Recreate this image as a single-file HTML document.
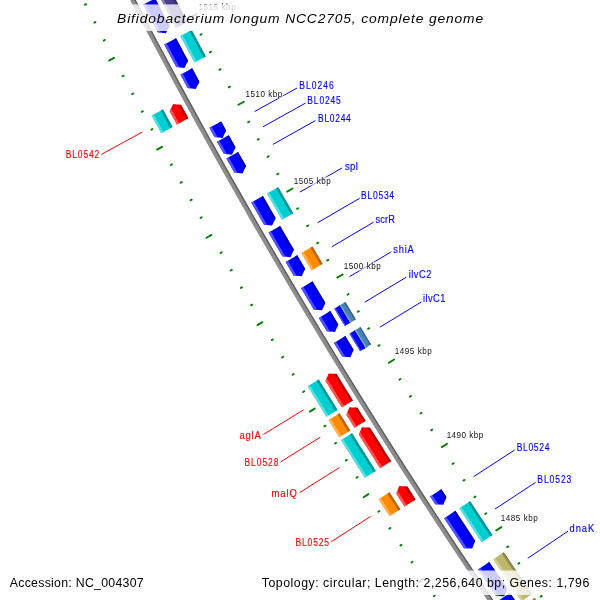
<!DOCTYPE html>
<html><head><meta charset="utf-8"><style>
html,body{margin:0;padding:0;background:#fff;}
svg{display:block;will-change:transform}
text{font-family:"Liberation Sans",sans-serif;}
.rl{font-size:9px;}
.lb{font-size:10px;stroke-width:0.15px;paint-order:stroke}
.tt{font-size:13px;font-style:italic;letter-spacing:0.8px}
.ft{font-size:13px;fill:#000;}
</style></head><body>
<svg width="600" height="600" viewBox="0 0 600 600">
<rect width="600" height="600" fill="#fff"/>
<path d="M559.79,705.03 L550.77,692.25 L541.79,679.43 L532.84,666.60 L523.93,653.75 L515.05,640.87 L506.20,627.96 L497.38,615.04 L488.60,602.09 L479.85,589.12 L471.14,576.13 L462.46,563.11 L453.81,550.08 L445.19,537.02 L436.61,523.94 L428.06,510.83 L419.55,497.71 L411.07,484.56 L402.63,471.39 L394.21,458.20 L385.84,444.99 L377.49,431.75 L369.18,418.50 L360.91,405.22 L352.67,391.92 L344.46,378.60 L336.29,365.26 L328.15,351.90 L320.04,338.52 L311.97,325.12 L303.94,311.69 L295.94,298.25 L287.97,284.78 L280.04,271.30 L272.14,257.79 L264.28,244.27 L256.46,230.72 L248.66,217.15 L240.91,203.57 L233.18,189.96 L225.50,176.34 L217.85,162.69 L210.23,149.02 L202.65,135.34 L195.10,121.63 L187.59,107.91 L180.12,94.17 L172.67,80.41 L165.27,66.62 L157.90,52.82 L150.57,39.00 L143.27,25.17 L136.01,11.31 L128.78,-2.57 L121.59,-16.46 L114.43,-30.37 L107.31,-44.30 L100.23,-58.25 L93.18,-72.22 L86.17,-86.21 L90.64,-88.44 L97.65,-74.47 L104.69,-60.51 L111.77,-46.57 L118.88,-32.65 L126.03,-18.75 L133.22,-4.87 L140.44,8.99 L147.69,22.84 L154.99,36.67 L162.31,50.47 L169.68,64.26 L177.08,78.03 L184.51,91.78 L191.98,105.52 L199.48,119.23 L207.02,132.92 L214.60,146.60 L222.21,160.25 L229.86,173.88 L237.54,187.50 L245.25,201.09 L253.00,214.67 L260.79,228.22 L268.61,241.76 L276.46,255.27 L284.35,268.77 L292.28,282.24 L300.24,295.70 L308.23,309.13 L316.26,322.54 L324.32,335.94 L332.42,349.31 L340.55,362.66 L348.72,375.99 L356.92,389.29 L365.15,402.58 L373.42,415.85 L381.73,429.09 L390.06,442.32 L398.43,455.52 L406.84,468.70 L415.28,481.85 L423.75,494.99 L432.26,508.11 L440.80,521.20 L449.37,534.27 L457.98,547.32 L466.62,560.34 L475.29,573.35 L484.00,586.33 L492.74,599.29 L501.52,612.23 L510.33,625.14 L519.17,638.03 L528.04,650.90 L536.95,663.75 L545.89,676.57 L554.86,689.37 L563.87,702.15Z" fill="#8c8c8c"/>
<path d="M562.81,702.90 L553.80,690.12 L544.82,677.31 L535.88,664.49 L526.97,651.64 L518.10,638.77 L509.25,625.87 L500.44,612.96 L491.67,600.02 L482.92,587.06 L474.21,574.07 L465.54,561.06 L456.89,548.04 L448.28,534.98 L439.71,521.91 L431.17,508.82 L422.66,495.70 L414.18,482.56 L405.74,469.40 L397.34,456.21 L388.96,443.01 L380.62,429.78 L372.32,416.54 L364.05,403.27 L355.81,389.98 L347.61,376.67 L339.44,363.33 L331.31,349.98 L323.21,336.61 L315.15,323.21 L307.12,309.80 L299.12,296.36 L291.16,282.90 L283.23,269.43 L275.34,255.93 L267.48,242.41 L259.66,228.87 L251.87,215.32 L244.12,201.74 L236.41,188.14 L228.72,174.52 L221.08,160.88 L213.46,147.23 L205.89,133.55 L198.35,119.85 L190.84,106.14 L183.37,92.40 L175.93,78.65 L168.53,64.88 L161.17,51.08 L153.84,37.27 L146.54,23.44 L139.29,9.60 L132.06,-4.27 L124.88,-18.16 L117.73,-32.06 L110.61,-45.98 L103.53,-59.92 L96.49,-73.88 L89.48,-87.86 L90.64,-88.44 L97.65,-74.47 L104.69,-60.51 L111.77,-46.57 L118.88,-32.65 L126.03,-18.75 L133.22,-4.87 L140.44,8.99 L147.69,22.84 L154.99,36.67 L162.31,50.47 L169.68,64.26 L177.08,78.03 L184.51,91.78 L191.98,105.52 L199.48,119.23 L207.02,132.92 L214.60,146.60 L222.21,160.25 L229.86,173.88 L237.54,187.50 L245.25,201.09 L253.00,214.67 L260.79,228.22 L268.61,241.76 L276.46,255.27 L284.35,268.77 L292.28,282.24 L300.24,295.70 L308.23,309.13 L316.26,322.54 L324.32,335.94 L332.42,349.31 L340.55,362.66 L348.72,375.99 L356.92,389.29 L365.15,402.58 L373.42,415.85 L381.73,429.09 L390.06,442.32 L398.43,455.52 L406.84,468.70 L415.28,481.85 L423.75,494.99 L432.26,508.11 L440.80,521.20 L449.37,534.27 L457.98,547.32 L466.62,560.34 L475.29,573.35 L484.00,586.33 L492.74,599.29 L501.52,612.23 L510.33,625.14 L519.17,638.03 L528.04,650.90 L536.95,663.75 L545.89,676.57 L554.86,689.37 L563.87,702.15Z" fill="#5e5e5e"/>
<line x1="608.95" y1="694.67" x2="614.00" y2="691.07" stroke="#008000" stroke-width="1.9" stroke-linecap="round"/>
<line x1="537.91" y1="745.23" x2="533.27" y2="748.54" stroke="#008000" stroke-width="1.9" stroke-linecap="round"/>
<line x1="597.43" y1="678.42" x2="598.49" y2="677.67" stroke="#008000" stroke-width="1.9" stroke-linecap="round"/>
<line x1="526.39" y1="728.64" x2="525.33" y2="729.39" stroke="#008000" stroke-width="1.9" stroke-linecap="round"/>
<line x1="585.96" y1="662.14" x2="587.03" y2="661.40" stroke="#008000" stroke-width="1.9" stroke-linecap="round"/>
<line x1="514.75" y1="712.12" x2="513.69" y2="712.87" stroke="#008000" stroke-width="1.9" stroke-linecap="round"/>
<line x1="574.55" y1="645.82" x2="575.62" y2="645.08" stroke="#008000" stroke-width="1.9" stroke-linecap="round"/>
<line x1="503.18" y1="695.57" x2="502.11" y2="696.31" stroke="#008000" stroke-width="1.9" stroke-linecap="round"/>
<line x1="563.19" y1="629.47" x2="564.26" y2="628.73" stroke="#008000" stroke-width="1.9" stroke-linecap="round"/>
<line x1="491.65" y1="678.98" x2="490.58" y2="679.72" stroke="#008000" stroke-width="1.9" stroke-linecap="round"/>
<line x1="551.88" y1="613.07" x2="556.99" y2="609.56" stroke="#008000" stroke-width="1.9" stroke-linecap="round"/>
<line x1="480.02" y1="662.46" x2="475.32" y2="665.69" stroke="#008000" stroke-width="1.9" stroke-linecap="round"/>
<line x1="540.63" y1="596.64" x2="541.71" y2="595.91" stroke="#008000" stroke-width="1.9" stroke-linecap="round"/>
<line x1="468.77" y1="645.68" x2="467.70" y2="646.41" stroke="#008000" stroke-width="1.9" stroke-linecap="round"/>
<line x1="529.44" y1="580.18" x2="530.51" y2="579.45" stroke="#008000" stroke-width="1.9" stroke-linecap="round"/>
<line x1="457.41" y1="628.98" x2="456.33" y2="629.71" stroke="#008000" stroke-width="1.9" stroke-linecap="round"/>
<line x1="518.29" y1="563.67" x2="519.37" y2="562.95" stroke="#008000" stroke-width="1.9" stroke-linecap="round"/>
<line x1="446.11" y1="612.23" x2="445.03" y2="612.96" stroke="#008000" stroke-width="1.9" stroke-linecap="round"/>
<line x1="507.20" y1="547.13" x2="508.29" y2="546.41" stroke="#008000" stroke-width="1.9" stroke-linecap="round"/>
<line x1="434.86" y1="595.45" x2="433.78" y2="596.18" stroke="#008000" stroke-width="1.9" stroke-linecap="round"/>
<line x1="496.17" y1="530.55" x2="501.34" y2="527.13" stroke="#008000" stroke-width="1.9" stroke-linecap="round"/>
<line x1="423.50" y1="578.75" x2="418.75" y2="581.90" stroke="#008000" stroke-width="1.9" stroke-linecap="round"/>
<line x1="485.19" y1="513.94" x2="486.28" y2="513.22" stroke="#008000" stroke-width="1.9" stroke-linecap="round"/>
<line x1="412.53" y1="561.78" x2="411.44" y2="562.50" stroke="#008000" stroke-width="1.9" stroke-linecap="round"/>
<line x1="474.27" y1="497.29" x2="475.36" y2="496.58" stroke="#008000" stroke-width="1.9" stroke-linecap="round"/>
<line x1="401.45" y1="544.89" x2="400.36" y2="545.60" stroke="#008000" stroke-width="1.9" stroke-linecap="round"/>
<line x1="463.40" y1="480.60" x2="464.49" y2="479.89" stroke="#008000" stroke-width="1.9" stroke-linecap="round"/>
<line x1="390.42" y1="527.97" x2="389.33" y2="528.67" stroke="#008000" stroke-width="1.9" stroke-linecap="round"/>
<line x1="452.59" y1="463.88" x2="453.68" y2="463.18" stroke="#008000" stroke-width="1.9" stroke-linecap="round"/>
<line x1="379.45" y1="511.00" x2="378.36" y2="511.71" stroke="#008000" stroke-width="1.9" stroke-linecap="round"/>
<line x1="441.83" y1="447.12" x2="447.05" y2="443.78" stroke="#008000" stroke-width="1.9" stroke-linecap="round"/>
<line x1="368.37" y1="494.11" x2="363.57" y2="497.18" stroke="#008000" stroke-width="1.9" stroke-linecap="round"/>
<line x1="431.12" y1="430.33" x2="432.22" y2="429.63" stroke="#008000" stroke-width="1.9" stroke-linecap="round"/>
<line x1="357.68" y1="476.97" x2="356.58" y2="477.66" stroke="#008000" stroke-width="1.9" stroke-linecap="round"/>
<line x1="420.48" y1="413.50" x2="421.58" y2="412.81" stroke="#008000" stroke-width="1.9" stroke-linecap="round"/>
<line x1="346.88" y1="459.90" x2="345.78" y2="460.59" stroke="#008000" stroke-width="1.9" stroke-linecap="round"/>
<line x1="409.88" y1="396.64" x2="410.99" y2="395.95" stroke="#008000" stroke-width="1.9" stroke-linecap="round"/>
<line x1="336.14" y1="442.79" x2="335.03" y2="443.48" stroke="#008000" stroke-width="1.9" stroke-linecap="round"/>
<line x1="399.35" y1="379.74" x2="400.45" y2="379.05" stroke="#008000" stroke-width="1.9" stroke-linecap="round"/>
<line x1="325.45" y1="425.65" x2="324.34" y2="426.33" stroke="#008000" stroke-width="1.9" stroke-linecap="round"/>
<line x1="388.87" y1="362.81" x2="394.14" y2="359.55" stroke="#008000" stroke-width="1.9" stroke-linecap="round"/>
<line x1="314.65" y1="408.58" x2="309.79" y2="411.57" stroke="#008000" stroke-width="1.9" stroke-linecap="round"/>
<line x1="378.44" y1="345.84" x2="379.55" y2="345.16" stroke="#008000" stroke-width="1.9" stroke-linecap="round"/>
<line x1="304.24" y1="391.26" x2="303.13" y2="391.94" stroke="#008000" stroke-width="1.9" stroke-linecap="round"/>
<line x1="368.07" y1="328.84" x2="369.19" y2="328.16" stroke="#008000" stroke-width="1.9" stroke-linecap="round"/>
<line x1="293.72" y1="374.01" x2="292.61" y2="374.69" stroke="#008000" stroke-width="1.9" stroke-linecap="round"/>
<line x1="357.76" y1="311.80" x2="358.88" y2="311.13" stroke="#008000" stroke-width="1.9" stroke-linecap="round"/>
<line x1="283.26" y1="356.73" x2="282.15" y2="357.40" stroke="#008000" stroke-width="1.9" stroke-linecap="round"/>
<line x1="347.51" y1="294.73" x2="348.62" y2="294.06" stroke="#008000" stroke-width="1.9" stroke-linecap="round"/>
<line x1="272.86" y1="339.41" x2="271.74" y2="340.08" stroke="#008000" stroke-width="1.9" stroke-linecap="round"/>
<line x1="337.31" y1="277.63" x2="342.64" y2="274.46" stroke="#008000" stroke-width="1.9" stroke-linecap="round"/>
<line x1="262.34" y1="322.17" x2="257.44" y2="325.08" stroke="#008000" stroke-width="1.9" stroke-linecap="round"/>
<line x1="327.16" y1="260.49" x2="328.28" y2="259.83" stroke="#008000" stroke-width="1.9" stroke-linecap="round"/>
<line x1="252.22" y1="304.68" x2="251.10" y2="305.34" stroke="#008000" stroke-width="1.9" stroke-linecap="round"/>
<line x1="317.08" y1="243.32" x2="318.20" y2="242.66" stroke="#008000" stroke-width="1.9" stroke-linecap="round"/>
<line x1="241.99" y1="287.26" x2="240.87" y2="287.92" stroke="#008000" stroke-width="1.9" stroke-linecap="round"/>
<line x1="307.05" y1="226.12" x2="308.17" y2="225.46" stroke="#008000" stroke-width="1.9" stroke-linecap="round"/>
<line x1="231.82" y1="269.81" x2="230.69" y2="270.46" stroke="#008000" stroke-width="1.9" stroke-linecap="round"/>
<line x1="297.08" y1="208.88" x2="298.20" y2="208.23" stroke="#008000" stroke-width="1.9" stroke-linecap="round"/>
<line x1="221.70" y1="252.32" x2="220.57" y2="252.97" stroke="#008000" stroke-width="1.9" stroke-linecap="round"/>
<line x1="287.16" y1="191.61" x2="292.54" y2="188.53" stroke="#008000" stroke-width="1.9" stroke-linecap="round"/>
<line x1="211.47" y1="234.90" x2="206.52" y2="237.73" stroke="#008000" stroke-width="1.9" stroke-linecap="round"/>
<line x1="277.30" y1="174.31" x2="278.43" y2="173.67" stroke="#008000" stroke-width="1.9" stroke-linecap="round"/>
<line x1="201.64" y1="217.25" x2="200.51" y2="217.89" stroke="#008000" stroke-width="1.9" stroke-linecap="round"/>
<line x1="267.50" y1="156.97" x2="268.63" y2="156.33" stroke="#008000" stroke-width="1.9" stroke-linecap="round"/>
<line x1="191.70" y1="199.67" x2="190.56" y2="200.31" stroke="#008000" stroke-width="1.9" stroke-linecap="round"/>
<line x1="257.76" y1="139.60" x2="258.89" y2="138.97" stroke="#008000" stroke-width="1.9" stroke-linecap="round"/>
<line x1="181.81" y1="182.05" x2="180.68" y2="182.68" stroke="#008000" stroke-width="1.9" stroke-linecap="round"/>
<line x1="248.07" y1="122.21" x2="249.21" y2="121.58" stroke="#008000" stroke-width="1.9" stroke-linecap="round"/>
<line x1="171.99" y1="164.40" x2="170.85" y2="165.03" stroke="#008000" stroke-width="1.9" stroke-linecap="round"/>
<line x1="238.44" y1="104.77" x2="243.87" y2="101.79" stroke="#008000" stroke-width="1.9" stroke-linecap="round"/>
<line x1="162.04" y1="146.81" x2="157.05" y2="149.56" stroke="#008000" stroke-width="1.9" stroke-linecap="round"/>
<line x1="228.87" y1="87.31" x2="230.01" y2="86.69" stroke="#008000" stroke-width="1.9" stroke-linecap="round"/>
<line x1="152.51" y1="129.00" x2="151.37" y2="129.63" stroke="#008000" stroke-width="1.9" stroke-linecap="round"/>
<line x1="219.35" y1="69.82" x2="220.50" y2="69.20" stroke="#008000" stroke-width="1.9" stroke-linecap="round"/>
<line x1="142.86" y1="111.26" x2="141.71" y2="111.88" stroke="#008000" stroke-width="1.9" stroke-linecap="round"/>
<line x1="209.90" y1="52.29" x2="211.04" y2="51.68" stroke="#008000" stroke-width="1.9" stroke-linecap="round"/>
<line x1="133.26" y1="93.48" x2="132.12" y2="94.09" stroke="#008000" stroke-width="1.9" stroke-linecap="round"/>
<line x1="200.50" y1="34.74" x2="201.65" y2="34.12" stroke="#008000" stroke-width="1.9" stroke-linecap="round"/>
<line x1="123.73" y1="75.67" x2="122.58" y2="76.28" stroke="#008000" stroke-width="1.9" stroke-linecap="round"/>
<line x1="191.16" y1="17.15" x2="196.64" y2="14.25" stroke="#008000" stroke-width="1.9" stroke-linecap="round"/>
<line x1="114.08" y1="57.92" x2="109.04" y2="60.59" stroke="#008000" stroke-width="1.9" stroke-linecap="round"/>
<line x1="104.84" y1="39.96" x2="103.69" y2="40.56" stroke="#008000" stroke-width="1.9" stroke-linecap="round"/>
<line x1="95.48" y1="22.05" x2="94.33" y2="22.65" stroke="#008000" stroke-width="1.9" stroke-linecap="round"/>
<line x1="86.18" y1="4.12" x2="85.03" y2="4.71" stroke="#008000" stroke-width="1.9" stroke-linecap="round"/>
<line x1="76.94" y1="-13.85" x2="75.79" y2="-13.25" stroke="#008000" stroke-width="1.9" stroke-linecap="round"/>
<line x1="67.77" y1="-31.84" x2="66.61" y2="-31.25" stroke="#008000" stroke-width="1.9" stroke-linecap="round"/>
<line x1="58.65" y1="-49.87" x2="57.48" y2="-49.28" stroke="#008000" stroke-width="1.9" stroke-linecap="round"/>
<line x1="49.59" y1="-67.92" x2="48.42" y2="-67.34" stroke="#008000" stroke-width="1.9" stroke-linecap="round"/>
<line x1="40.59" y1="-86.01" x2="39.42" y2="-85.43" stroke="#008000" stroke-width="1.9" stroke-linecap="round"/>
<line x1="31.64" y1="-104.12" x2="30.48" y2="-103.55" stroke="#008000" stroke-width="1.9" stroke-linecap="round"/>
<path d="M143.31,4.61 L145.71,9.20 L148.11,13.80 L150.52,18.39 L152.93,22.97 L155.34,27.56 L157.76,32.14 L165.90,33.27 L169.55,25.91 L169.55,25.91 L167.14,21.34 L164.72,16.76 L162.32,12.19 L159.92,7.61 L157.52,3.03 L155.12,-1.56Z" fill="#0000ff"/>
<path d="M143.31,4.61 L145.71,9.20 L148.11,13.80 L150.52,18.39 L152.93,22.97 L155.34,27.56 L157.76,32.14 L160.86,32.57 L160.86,32.57 L158.29,27.72 L155.74,22.87 L153.18,18.02 L150.63,13.16 L148.09,8.30 L145.55,3.44Z" fill="#5454ff"/>
<path d="M152.88,-0.38 L155.41,4.47 L157.95,9.32 L160.50,14.17 L163.05,19.02 L165.60,23.87 L168.16,28.71 L169.55,25.91 L169.55,25.91 L167.14,21.34 L164.72,16.76 L162.32,12.19 L159.92,7.61 L157.52,3.03 L155.12,-1.56Z" fill="#0000ba"/>
<path d="M175.99,27.93 L173.20,22.66 L170.42,17.38 L167.64,12.10 L164.86,6.82 L162.10,1.53 L159.33,-3.75 L170.75,-9.71 L173.51,-4.44 L176.27,0.84 L179.04,6.11 L181.81,11.37 L184.59,16.64 L187.37,21.90Z" fill="#483d8b"/>
<path d="M175.99,27.93 L173.20,22.66 L170.42,17.38 L167.64,12.10 L164.86,6.82 L162.10,1.53 L159.33,-3.75 L161.50,-4.89 L164.26,0.40 L167.03,5.68 L169.80,10.96 L172.58,16.24 L175.36,21.51 L178.15,26.78Z" fill="#847db1"/>
<path d="M185.21,23.05 L182.43,17.78 L179.65,12.52 L176.87,7.24 L174.10,1.97 L171.34,-3.30 L168.58,-8.58 L170.75,-9.71 L173.51,-4.44 L176.27,0.84 L179.04,6.11 L181.81,11.37 L184.59,16.64 L187.37,21.90Z" fill="#352d65"/>
<path d="M164.28,44.44 L166.68,48.95 L169.08,53.45 L171.48,57.95 L173.89,62.45 L176.30,66.94 L184.44,68.02 L188.04,60.64 L188.04,60.64 L185.64,56.15 L183.24,51.66 L180.84,47.17 L178.44,42.68 L176.05,38.19Z" fill="#0000ff"/>
<path d="M164.28,44.44 L166.68,48.95 L169.08,53.45 L171.48,57.95 L173.89,62.45 L176.30,66.94 L179.39,67.35 L179.39,67.35 L176.81,62.54 L174.23,57.72 L171.66,52.90 L169.09,48.08 L166.52,43.25Z" fill="#5454ff"/>
<path d="M173.82,39.38 L176.38,44.19 L178.95,49.01 L181.52,53.82 L184.09,58.63 L186.67,63.44 L188.04,60.64 L188.04,60.64 L185.64,56.15 L183.24,51.66 L180.84,47.17 L178.44,42.68 L176.05,38.19Z" fill="#0000ba"/>
<path d="M194.50,62.61 L192.11,58.17 L189.73,53.73 L187.36,49.29 L184.98,44.85 L182.61,40.40 L180.25,35.96 L191.62,29.91 L193.98,34.35 L196.35,38.79 L198.71,43.22 L201.09,47.65 L203.46,52.08 L205.84,56.51Z" fill="#00ced1"/>
<path d="M194.50,62.61 L192.11,58.17 L189.73,53.73 L187.36,49.29 L184.98,44.85 L182.61,40.40 L180.25,35.96 L182.41,34.81 L184.77,39.25 L187.14,43.70 L189.51,48.14 L191.89,52.58 L194.27,57.02 L196.65,61.45Z" fill="#54dee0"/>
<path d="M203.68,57.67 L201.31,53.24 L198.93,48.81 L196.56,44.37 L194.19,39.94 L191.82,35.50 L189.46,31.06 L191.62,29.91 L193.98,34.35 L196.35,38.79 L198.71,43.22 L201.09,47.65 L203.46,52.08 L205.84,56.51Z" fill="#009699"/>
<path d="M180.46,74.68 L182.85,79.12 L185.25,83.55 L187.65,87.98 L195.79,89.02 L199.37,81.63 L199.37,81.63 L196.97,77.21 L194.58,72.79 L192.20,68.36Z" fill="#0000ff"/>
<path d="M180.46,74.68 L182.85,79.12 L185.25,83.55 L187.65,87.98 L190.74,88.38 L190.74,88.38 L188.05,83.41 L185.37,78.45 L182.69,73.48Z" fill="#5454ff"/>
<path d="M189.97,69.56 L192.64,74.52 L195.32,79.48 L198.01,84.44 L199.37,81.63 L199.37,81.63 L196.97,77.21 L194.58,72.79 L192.20,68.36Z" fill="#0000ba"/>
<path d="M209.44,127.84 L211.95,132.38 L214.45,136.91 L222.61,137.88 L226.11,130.45 L226.11,130.45 L223.61,125.93 L221.11,121.41Z" fill="#0000ff"/>
<path d="M209.44,127.84 L211.95,132.38 L214.45,136.91 L217.55,137.28 L217.55,137.28 L215.59,133.73 L213.62,130.18 L211.66,126.62Z" fill="#5454ff"/>
<path d="M218.90,122.63 L220.86,126.18 L222.82,129.73 L224.78,133.27 L226.11,130.45 L226.11,130.45 L223.61,125.93 L221.11,121.41Z" fill="#0000ba"/>
<path d="M217.07,141.64 L219.33,145.69 L221.58,149.74 L223.84,153.79 L232.00,154.73 L235.48,147.30 L235.48,147.30 L233.23,143.26 L230.98,139.21 L228.73,135.17Z" fill="#0000ff"/>
<path d="M217.07,141.64 L219.33,145.69 L221.58,149.74 L223.84,153.79 L226.94,154.15 L226.94,154.15 L224.39,149.57 L221.84,144.99 L219.29,140.41Z" fill="#5454ff"/>
<path d="M226.52,136.40 L229.06,140.98 L231.60,145.55 L234.15,150.12 L235.48,147.30 L235.48,147.30 L233.23,143.26 L230.98,139.21 L228.73,135.17Z" fill="#0000ba"/>
<path d="M226.45,158.48 L229.09,163.18 L231.72,167.88 L234.37,172.58 L242.53,173.49 L245.98,166.04 L245.98,166.04 L243.35,161.35 L240.72,156.66 L238.09,151.97Z" fill="#0000ff"/>
<path d="M226.45,158.48 L229.09,163.18 L231.72,167.88 L234.37,172.58 L237.47,172.93 L237.47,172.93 L234.53,167.70 L231.59,162.47 L228.67,157.24Z" fill="#5454ff"/>
<path d="M235.88,153.21 L238.80,158.43 L241.73,163.65 L244.67,168.87 L245.98,166.04 L245.98,166.04 L243.35,161.35 L240.72,156.66 L238.09,151.97Z" fill="#0000ba"/>
<path d="M251.31,202.49 L253.84,206.93 L256.37,211.36 L258.91,215.79 L261.45,220.22 L264.00,224.64 L272.17,225.47 L275.55,217.99 L275.55,217.99 L273.01,213.57 L270.47,209.16 L267.94,204.74 L265.41,200.31 L262.89,195.89Z" fill="#0000ff"/>
<path d="M251.31,202.49 L253.84,206.93 L256.37,211.36 L258.91,215.79 L261.45,220.22 L264.00,224.64 L267.10,224.96 L267.10,224.96 L264.38,220.22 L261.65,215.48 L258.93,210.73 L256.22,205.99 L253.51,201.24Z" fill="#5454ff"/>
<path d="M260.69,197.14 L263.39,201.89 L266.11,206.63 L268.82,211.36 L271.54,216.10 L274.26,220.83 L275.55,217.99 L275.55,217.99 L273.01,213.57 L270.47,209.16 L267.94,204.74 L265.41,200.31 L262.89,195.89Z" fill="#0000ba"/>
<path d="M282.06,219.77 L279.54,215.40 L277.03,211.03 L274.52,206.66 L272.01,202.29 L269.51,197.91 L267.01,193.54 L278.20,187.16 L280.70,191.53 L283.19,195.89 L285.69,200.26 L288.20,204.62 L290.70,208.98 L293.22,213.34Z" fill="#00ced1"/>
<path d="M282.06,219.77 L279.54,215.40 L277.03,211.03 L274.52,206.66 L272.01,202.29 L269.51,197.91 L267.01,193.54 L269.14,192.32 L271.64,196.70 L274.14,201.07 L276.64,205.45 L279.15,209.81 L281.66,214.18 L284.18,218.55Z" fill="#54dee0"/>
<path d="M291.10,214.56 L288.58,210.20 L286.07,205.84 L283.57,201.47 L281.07,197.11 L278.57,192.74 L276.08,188.37 L278.20,187.16 L280.70,191.53 L283.19,195.89 L285.69,200.26 L288.20,204.62 L290.70,208.98 L293.22,213.34Z" fill="#009699"/>
<path d="M268.56,232.55 L271.32,237.31 L274.07,242.08 L276.84,246.83 L279.60,251.59 L282.38,256.34 L290.55,257.13 L293.89,249.62 L293.89,249.62 L291.12,244.88 L288.36,240.13 L285.60,235.39 L282.85,230.64 L280.10,225.88Z" fill="#0000ff"/>
<path d="M268.56,232.55 L271.32,237.31 L274.07,242.08 L276.84,246.83 L279.60,251.59 L282.38,256.34 L285.48,256.64 L285.48,256.64 L282.53,251.58 L279.58,246.51 L276.63,241.44 L273.69,236.36 L270.75,231.28Z" fill="#5454ff"/>
<path d="M277.91,227.15 L280.84,232.22 L283.78,237.29 L286.72,242.35 L289.67,247.41 L292.62,252.47 L293.89,249.62 L293.89,249.62 L291.12,244.88 L288.36,240.13 L285.60,235.39 L282.85,230.64 L280.10,225.88Z" fill="#0000ba"/>
<path d="M285.72,262.06 L288.33,266.52 L290.95,270.97 L293.56,275.42 L301.74,276.18 L305.05,268.66 L305.05,268.66 L302.44,264.22 L299.83,259.78 L297.23,255.33Z" fill="#0000ff"/>
<path d="M285.72,262.06 L288.33,266.52 L290.95,270.97 L293.56,275.42 L296.67,275.71 L296.67,275.71 L293.75,270.74 L290.82,265.76 L287.91,260.78Z" fill="#5454ff"/>
<path d="M295.04,256.61 L297.95,261.58 L300.87,266.55 L303.79,271.51 L305.05,268.66 L305.05,268.66 L302.44,264.22 L299.83,259.78 L297.23,255.33Z" fill="#0000ba"/>
<path d="M311.58,270.38 L309.01,266.02 L306.44,261.66 L303.88,257.30 L301.33,252.93 L312.44,246.43 L314.99,250.78 L317.55,255.13 L320.11,259.49 L322.67,263.83Z" fill="#ff8c00"/>
<path d="M311.58,270.38 L309.01,266.02 L306.44,261.66 L303.88,257.30 L301.33,252.93 L303.44,251.69 L305.99,256.06 L308.55,260.42 L311.12,264.78 L313.68,269.13Z" fill="#ffb254"/>
<path d="M320.56,265.08 L318.00,260.73 L315.44,256.37 L312.88,252.02 L310.33,247.66 L312.44,246.43 L314.99,250.78 L317.55,255.13 L320.11,259.49 L322.67,263.83Z" fill="#ba6600"/>
<path d="M301.08,288.15 L303.63,292.45 L306.18,296.75 L308.73,301.04 L311.29,305.34 L313.85,309.63 L322.04,310.33 L325.29,302.79 L325.29,302.79 L322.74,298.51 L320.18,294.22 L317.64,289.94 L315.09,285.65 L312.55,281.36Z" fill="#0000ff"/>
<path d="M301.08,288.15 L303.63,292.45 L306.18,296.75 L308.73,301.04 L311.29,305.34 L313.85,309.63 L316.96,309.89 L316.96,309.89 L314.21,305.29 L311.47,300.69 L308.73,296.08 L305.99,291.47 L303.26,286.86Z" fill="#5454ff"/>
<path d="M310.37,282.65 L313.10,287.26 L315.83,291.86 L318.57,296.46 L321.31,301.06 L324.05,305.65 L325.29,302.79 L325.29,302.79 L322.74,298.51 L320.18,294.22 L317.64,289.94 L315.09,285.65 L312.55,281.36Z" fill="#0000ba"/>
<path d="M318.82,317.93 L321.50,322.39 L324.18,326.85 L326.87,331.30 L335.05,331.97 L338.28,324.42 L338.28,324.42 L335.60,319.97 L332.92,315.52 L330.25,311.07Z" fill="#0000ff"/>
<path d="M318.82,317.93 L321.50,322.39 L324.18,326.85 L326.87,331.30 L329.98,331.56 L329.98,331.56 L326.98,326.58 L323.98,321.60 L320.99,316.62Z" fill="#5454ff"/>
<path d="M328.08,312.37 L331.07,317.35 L334.06,322.32 L337.05,327.29 L338.28,324.42 L338.28,324.42 L335.60,319.97 L332.92,315.52 L330.25,311.07Z" fill="#0000ba"/>
<path d="M344.82,326.07 L342.19,321.71 L339.57,317.35 L336.94,312.99 L334.32,308.63 L339.85,305.32 L342.46,309.67 L345.08,314.03 L347.71,318.38 L350.33,322.73Z" fill="#0000ff"/>
<path d="M344.82,326.07 L342.19,321.71 L339.57,317.35 L336.94,312.99 L334.32,308.63 L335.37,308.00 L337.99,312.36 L340.61,316.72 L343.24,321.08 L345.87,325.43Z" fill="#5454ff"/>
<path d="M349.29,323.37 L346.66,319.02 L344.04,314.66 L341.42,310.30 L338.80,305.94 L339.85,305.32 L342.46,309.67 L345.08,314.03 L347.71,318.38 L350.33,322.73Z" fill="#0000ba"/>
<path d="M350.33,322.73 L347.71,318.38 L345.08,314.03 L342.46,309.67 L339.85,305.32 L345.37,302.00 L347.98,306.36 L350.60,310.71 L353.22,315.06 L355.85,319.40Z" fill="#4682b4"/>
<path d="M350.33,322.73 L347.71,318.38 L345.08,314.03 L342.46,309.67 L339.85,305.32 L340.90,304.69 L343.51,309.04 L346.13,313.40 L348.76,317.75 L351.38,322.10Z" fill="#83abcd"/>
<path d="M354.80,320.04 L352.17,315.69 L349.55,311.34 L346.94,306.99 L344.32,302.63 L345.37,302.00 L347.98,306.36 L350.60,310.71 L353.22,315.06 L355.85,319.40Z" fill="#335f83"/>
<path d="M333.96,343.03 L336.70,347.55 L339.45,352.07 L342.20,356.59 L350.39,357.21 L353.58,349.65 L353.58,349.65 L350.83,345.14 L348.09,340.63 L345.35,336.12Z" fill="#0000ff"/>
<path d="M333.96,343.03 L336.70,347.55 L339.45,352.07 L342.20,356.59 L345.31,356.83 L345.31,356.83 L342.24,351.79 L339.18,346.75 L336.12,341.71Z" fill="#5454ff"/>
<path d="M343.19,337.43 L346.24,342.46 L349.30,347.49 L352.37,352.52 L353.58,349.65 L353.58,349.65 L350.83,345.14 L348.09,340.63 L345.35,336.12Z" fill="#0000ba"/>
<path d="M360.13,351.26 L357.45,346.86 L354.77,342.46 L352.09,338.06 L349.42,333.65 L354.92,330.31 L357.59,334.71 L360.27,339.11 L362.95,343.51 L365.63,347.90Z" fill="#0000ff"/>
<path d="M360.13,351.26 L357.45,346.86 L354.77,342.46 L352.09,338.06 L349.42,333.65 L350.46,333.02 L353.13,337.42 L355.81,341.83 L358.49,346.23 L361.18,350.62Z" fill="#5454ff"/>
<path d="M364.58,348.54 L361.90,344.15 L359.22,339.75 L356.55,335.35 L353.88,330.95 L354.92,330.31 L357.59,334.71 L360.27,339.11 L362.95,343.51 L365.63,347.90Z" fill="#0000ba"/>
<path d="M365.63,347.90 L362.95,343.51 L360.27,339.11 L357.59,334.71 L354.92,330.31 L360.43,326.97 L363.10,331.37 L365.77,335.77 L368.44,340.16 L371.12,344.55Z" fill="#4682b4"/>
<path d="M365.63,347.90 L362.95,343.51 L360.27,339.11 L357.59,334.71 L354.92,330.31 L355.97,329.68 L358.64,334.08 L361.31,338.48 L363.99,342.87 L366.67,347.27Z" fill="#83abcd"/>
<path d="M370.08,345.18 L367.40,340.79 L364.72,336.40 L362.05,332.01 L359.38,327.61 L360.43,326.97 L363.10,331.37 L365.77,335.77 L368.44,340.16 L371.12,344.55Z" fill="#335f83"/>
<path d="M430.14,496.45 L432.68,500.37 L435.23,504.29 L443.43,504.68 L446.40,497.02 L446.40,497.02 L443.86,493.12 L441.33,489.21Z" fill="#0000ff"/>
<path d="M430.14,496.45 L432.68,500.37 L435.23,504.29 L438.34,504.44 L438.34,504.44 L435.30,499.76 L432.27,495.08Z" fill="#5454ff"/>
<path d="M439.20,490.58 L442.23,495.26 L445.27,499.93 L446.40,497.02 L446.40,497.02 L443.86,493.12 L441.33,489.21Z" fill="#0000ba"/>
<path d="M444.26,518.15 L447.54,523.15 L450.82,528.16 L454.11,533.16 L457.40,538.16 L460.70,543.15 L464.00,548.14 L472.21,548.46 L475.11,540.78 L475.11,540.78 L471.82,535.80 L468.53,530.82 L465.24,525.83 L461.96,520.84 L458.69,515.85 L455.42,510.85Z" fill="#0000ff"/>
<path d="M444.26,518.15 L447.54,523.15 L450.82,528.16 L454.11,533.16 L457.40,538.16 L460.70,543.15 L464.00,548.14 L467.12,548.26 L467.12,548.26 L464.15,543.77 L461.18,539.28 L458.21,534.78 L455.25,530.28 L452.29,525.78 L449.33,521.27 L446.38,516.76Z" fill="#5454ff"/>
<path d="M453.30,512.24 L456.25,516.74 L459.20,521.24 L462.15,525.74 L465.11,530.23 L468.07,534.72 L471.04,539.21 L474.01,543.70 L475.11,540.78 L475.11,540.78 L471.82,535.80 L468.53,530.82 L465.24,525.83 L461.96,520.84 L458.69,515.85 L455.42,510.85Z" fill="#0000ba"/>
<path d="M481.72,542.15 L478.52,537.31 L475.32,532.48 L472.13,527.64 L468.94,522.80 L465.75,517.95 L462.57,513.10 L459.39,508.25 L470.17,501.20 L473.34,506.04 L476.52,510.88 L479.69,515.72 L482.88,520.55 L486.07,525.38 L489.26,530.20 L492.45,535.03Z" fill="#00ced1"/>
<path d="M481.72,542.15 L478.52,537.31 L475.32,532.48 L472.13,527.64 L468.94,522.80 L465.75,517.95 L462.57,513.10 L459.39,508.25 L461.44,506.91 L464.62,511.76 L467.80,516.61 L470.98,521.45 L474.17,526.29 L477.36,531.13 L480.56,535.96 L483.76,540.79Z" fill="#54dee0"/>
<path d="M490.42,536.38 L487.22,531.55 L484.02,526.73 L480.83,521.90 L477.65,517.06 L474.47,512.23 L471.30,507.39 L468.12,502.54 L470.17,501.20 L473.34,506.04 L476.52,510.88 L479.69,515.72 L482.88,520.55 L486.07,525.38 L489.26,530.20 L492.45,535.03Z" fill="#009699"/>
<path d="M478.15,569.40 L481.13,573.85 L484.10,578.29 L487.08,582.72 L490.07,587.16 L493.06,591.59 L496.05,596.02 L504.26,596.27 L507.09,588.56 L507.09,588.56 L504.11,584.14 L501.12,579.71 L498.15,575.29 L495.17,570.86 L492.20,566.43 L489.23,561.99Z" fill="#0000ff"/>
<path d="M478.15,569.40 L481.13,573.85 L484.10,578.29 L487.08,582.72 L490.07,587.16 L493.06,591.59 L496.05,596.02 L499.17,596.12 L499.17,596.12 L496.01,591.44 L492.85,586.75 L489.69,582.07 L486.54,577.38 L483.40,572.69 L480.26,568.00Z" fill="#5454ff"/>
<path d="M487.13,563.40 L490.27,568.09 L493.41,572.77 L496.55,577.46 L499.70,582.14 L502.86,586.81 L506.02,591.49 L507.09,588.56 L507.09,588.56 L504.11,584.14 L501.12,579.71 L498.15,575.29 L495.17,570.86 L492.20,566.43 L489.23,561.99Z" fill="#0000ba"/>
<path d="M521.46,601.27 L518.30,596.62 L515.14,591.97 L511.99,587.32 L508.85,582.67 L505.71,578.01 L502.57,573.35 L499.44,568.69 L496.31,564.02 L493.18,559.35 L503.89,552.20 L507.01,556.85 L510.13,561.51 L513.26,566.16 L516.39,570.81 L519.52,575.46 L522.66,580.10 L525.80,584.75 L528.95,589.38 L532.10,594.02Z" fill="#bdb76b"/>
<path d="M521.46,601.27 L518.30,596.62 L515.14,591.97 L511.99,587.32 L508.85,582.67 L505.71,578.01 L502.57,573.35 L499.44,568.69 L496.31,564.02 L493.18,559.35 L495.22,557.99 L498.34,562.66 L501.47,567.32 L504.60,571.99 L507.73,576.64 L510.87,581.30 L514.02,585.95 L517.17,590.60 L520.32,595.25 L523.48,599.89Z" fill="#d3cf9c"/>
<path d="M530.08,595.40 L526.93,590.76 L523.78,586.12 L520.63,581.48 L517.49,576.83 L514.36,572.18 L511.23,567.53 L508.10,562.87 L504.97,558.22 L501.86,553.56 L503.89,552.20 L507.01,556.85 L510.13,561.51 L513.26,566.16 L516.39,570.81 L519.52,575.46 L522.66,580.10 L525.80,584.75 L528.95,589.38 L532.10,594.02Z" fill="#8a864e"/>
<path d="M498.97,600.33 L502.06,604.90 L505.16,609.46 L508.26,614.02 L511.37,618.57 L514.48,623.12 L517.60,627.67 L520.72,632.22 L523.84,636.76 L526.97,641.30 L530.10,645.84 L538.31,646.00 L541.07,638.27 L541.07,638.27 L537.94,633.74 L534.82,629.21 L531.71,624.67 L528.59,620.14 L525.48,615.60 L522.38,611.06 L519.28,606.51 L516.18,601.96 L513.09,597.41 L510.00,592.86Z" fill="#0000ff"/>
<path d="M498.97,600.33 L502.06,604.90 L505.16,609.46 L508.26,614.02 L511.37,618.57 L514.48,623.12 L517.60,627.67 L520.72,632.22 L523.84,636.76 L526.97,641.30 L530.10,645.84 L533.22,645.90 L533.22,645.90 L529.99,641.22 L526.76,636.53 L523.53,631.84 L520.31,627.14 L517.09,622.45 L513.88,617.75 L510.67,613.04 L507.46,608.34 L504.26,603.63 L501.07,598.91Z" fill="#5454ff"/>
<path d="M507.91,594.28 L511.10,598.99 L514.30,603.69 L517.50,608.39 L520.70,613.09 L523.91,617.78 L527.12,622.47 L530.34,627.16 L533.56,631.84 L536.79,636.53 L540.02,641.21 L541.07,638.27 L541.07,638.27 L537.94,633.74 L534.82,629.21 L531.71,624.67 L528.59,620.14 L525.48,615.60 L522.38,611.06 L519.28,606.51 L516.18,601.96 L513.09,597.41 L510.00,592.86Z" fill="#0000ba"/>
<path d="M559.41,656.37 L556.18,651.72 L552.94,647.07 L549.71,642.42 L546.49,637.76 L543.27,633.10 L540.05,628.43 L536.84,623.76 L533.64,619.09 L530.43,614.42 L527.24,609.74 L524.04,605.06 L534.68,597.81 L537.87,602.48 L541.06,607.14 L544.26,611.81 L547.46,616.47 L550.66,621.13 L553.87,625.78 L557.08,630.43 L560.30,635.08 L563.52,639.73 L566.75,644.37 L569.98,649.01Z" fill="#bdb76b"/>
<path d="M559.41,656.37 L556.18,651.72 L552.94,647.07 L549.71,642.42 L546.49,637.76 L543.27,633.10 L540.05,628.43 L536.84,623.76 L533.64,619.09 L530.43,614.42 L527.24,609.74 L524.04,605.06 L526.06,603.68 L529.26,608.36 L532.45,613.04 L535.65,617.71 L538.86,622.38 L542.07,627.04 L545.28,631.71 L548.50,636.37 L551.73,641.02 L554.95,645.68 L558.19,650.33 L561.42,654.97Z" fill="#d3cf9c"/>
<path d="M567.97,650.41 L564.74,645.77 L561.51,641.12 L558.29,636.47 L555.07,631.82 L551.86,627.17 L548.65,622.51 L545.44,617.85 L542.24,613.19 L539.04,608.53 L535.85,603.86 L532.66,599.19 L534.68,597.81 L537.87,602.48 L541.06,607.14 L544.26,611.81 L547.46,616.47 L550.66,621.13 L553.87,625.78 L557.08,630.43 L560.30,635.08 L563.52,639.73 L566.75,644.37 L569.98,649.01Z" fill="#8a864e"/>
<path d="M176.94,124.54 L174.52,120.11 L172.10,115.68 L169.69,111.25 L173.12,103.92 L181.14,105.02 L181.14,105.02 L183.55,109.44 L185.96,113.86 L188.38,118.27Z" fill="#ff0000"/>
<path d="M176.94,124.54 L174.52,120.11 L172.10,115.68 L169.69,111.25 L170.99,108.46 L170.99,108.46 L173.69,113.43 L176.40,118.39 L179.11,123.35Z" fill="#ff5454"/>
<path d="M186.20,119.46 L183.50,114.51 L180.79,109.56 L178.09,104.60 L181.14,105.02 L181.14,105.02 L183.55,109.44 L185.96,113.86 L188.38,118.27Z" fill="#ba0000"/>
<path d="M161.19,133.16 L158.79,128.78 L156.39,124.39 L154.00,120.00 L151.61,115.60 L162.95,109.44 L165.34,113.82 L167.72,118.21 L170.12,122.58 L172.51,126.96Z" fill="#00ced1"/>
<path d="M161.19,133.16 L158.79,128.78 L156.39,124.39 L154.00,120.00 L151.61,115.60 L153.76,114.43 L156.15,118.82 L158.54,123.21 L160.94,127.60 L163.34,131.99Z" fill="#54dee0"/>
<path d="M170.36,128.14 L167.96,123.76 L165.57,119.38 L163.18,115.00 L160.80,110.61 L162.95,109.44 L165.34,113.82 L167.72,118.21 L170.12,122.58 L172.51,126.96Z" fill="#009699"/>
<path d="M341.81,407.29 L339.09,402.90 L336.37,398.50 L333.66,394.10 L330.95,389.71 L328.25,385.30 L325.55,380.90 L328.60,373.40 L336.67,374.09 L336.67,374.09 L339.36,378.48 L342.06,382.88 L344.76,387.26 L347.47,391.65 L350.18,396.04 L352.89,400.42Z" fill="#ff0000"/>
<path d="M341.81,407.29 L339.09,402.90 L336.37,398.50 L333.66,394.10 L330.95,389.71 L328.25,385.30 L325.55,380.90 L326.71,378.05 L326.71,378.05 L329.56,382.71 L332.43,387.37 L335.29,392.03 L338.16,396.68 L341.03,401.33 L343.91,405.98Z" fill="#ff5454"/>
<path d="M350.78,401.73 L347.91,397.08 L345.04,392.44 L342.17,387.79 L339.31,383.14 L336.46,378.48 L333.60,373.83 L336.67,374.09 L336.67,374.09 L339.36,378.48 L342.06,382.88 L344.76,387.26 L347.47,391.65 L350.18,396.04 L352.89,400.42Z" fill="#ba0000"/>
<path d="M326.54,416.75 L323.39,411.66 L320.25,406.57 L317.11,401.47 L313.97,396.38 L310.84,391.28 L307.72,386.17 L318.73,379.44 L321.85,384.53 L324.97,389.62 L328.10,394.71 L331.23,399.79 L334.37,404.87 L337.51,409.95Z" fill="#00ced1"/>
<path d="M326.54,416.75 L323.39,411.66 L320.25,406.57 L317.11,401.47 L313.97,396.38 L310.84,391.28 L307.72,386.17 L309.81,384.89 L312.93,389.99 L316.06,395.09 L319.19,400.19 L322.33,405.28 L325.48,410.37 L328.62,415.46Z" fill="#54dee0"/>
<path d="M335.43,411.24 L332.28,406.16 L329.14,401.08 L326.01,395.99 L322.88,390.90 L319.76,385.81 L316.64,380.72 L318.73,379.44 L321.85,384.53 L324.97,389.62 L328.10,394.71 L331.23,399.79 L334.37,404.87 L337.51,409.95Z" fill="#009699"/>
<path d="M354.53,427.74 L351.82,423.39 L349.11,419.04 L346.40,414.69 L349.40,407.17 L357.47,407.80 L357.47,407.80 L360.18,412.15 L362.88,416.49 L365.59,420.83Z" fill="#ff0000"/>
<path d="M354.53,427.74 L351.82,423.39 L349.11,419.04 L346.40,414.69 L347.54,411.83 L347.54,411.83 L350.57,416.70 L353.60,421.56 L356.63,426.43Z" fill="#ff5454"/>
<path d="M363.49,422.14 L360.46,417.28 L357.43,412.43 L354.41,407.56 L357.47,407.80 L357.47,407.80 L360.18,412.15 L362.88,416.49 L365.59,420.83Z" fill="#ba0000"/>
<path d="M339.30,437.26 L336.62,432.97 L333.95,428.67 L331.27,424.38 L328.60,420.08 L339.57,413.27 L342.24,417.56 L344.90,421.85 L347.58,426.13 L350.25,430.42Z" fill="#ff8c00"/>
<path d="M339.30,437.26 L336.62,432.97 L333.95,428.67 L331.27,424.38 L328.60,420.08 L330.69,418.78 L333.36,423.08 L336.03,427.38 L338.70,431.67 L341.38,435.96Z" fill="#ffb254"/>
<path d="M348.17,431.72 L345.50,427.43 L342.82,423.14 L340.15,418.85 L337.49,414.56 L339.57,413.27 L342.24,417.56 L344.90,421.85 L347.58,426.13 L350.25,430.42Z" fill="#ba6600"/>
<path d="M380.04,468.18 L377.00,463.40 L373.97,458.62 L370.94,453.83 L367.91,449.04 L364.89,444.25 L361.88,439.46 L358.87,434.66 L361.84,427.13 L369.91,427.73 L369.91,427.73 L372.92,432.52 L375.93,437.30 L378.94,442.09 L381.96,446.86 L384.98,451.64 L388.01,456.41 L391.04,461.18Z" fill="#ff0000"/>
<path d="M380.04,468.18 L377.00,463.40 L373.97,458.62 L370.94,453.83 L367.91,449.04 L364.89,444.25 L361.88,439.46 L358.87,434.66 L360.00,431.80 L360.00,431.80 L363.14,436.81 L366.30,441.83 L369.45,446.84 L372.61,451.85 L375.78,456.85 L378.95,461.85 L382.13,466.85Z" fill="#ff5454"/>
<path d="M388.95,462.51 L385.78,457.52 L382.61,452.53 L379.45,447.53 L376.29,442.53 L373.14,437.52 L369.99,432.52 L366.85,427.50 L369.91,427.73 L369.91,427.73 L372.92,432.52 L375.93,437.30 L378.94,442.09 L381.96,446.86 L384.98,451.64 L388.01,456.41 L391.04,461.18Z" fill="#ba0000"/>
<path d="M364.88,477.82 L361.89,473.12 L358.91,468.41 L355.93,463.70 L352.95,458.99 L349.98,454.28 L347.01,449.56 L344.05,444.84 L341.09,440.12 L352.04,433.27 L354.99,437.98 L357.94,442.69 L360.91,447.40 L363.87,452.10 L366.84,456.80 L369.81,461.50 L372.79,466.20 L375.78,470.89Z" fill="#00ced1"/>
<path d="M364.88,477.82 L361.89,473.12 L358.91,468.41 L355.93,463.70 L352.95,458.99 L349.98,454.28 L347.01,449.56 L344.05,444.84 L341.09,440.12 L343.17,438.82 L346.13,443.54 L349.09,448.25 L352.06,452.97 L355.03,457.68 L358.00,462.39 L360.98,467.10 L363.96,471.80 L366.95,476.50Z" fill="#54dee0"/>
<path d="M373.71,472.21 L370.72,467.51 L367.74,462.82 L364.77,458.11 L361.80,453.41 L358.83,448.70 L355.87,443.99 L352.91,439.28 L349.96,434.57 L352.04,433.27 L354.99,437.98 L357.94,442.69 L360.91,447.40 L363.87,452.10 L366.84,456.80 L369.81,461.50 L372.79,466.20 L375.78,470.89Z" fill="#009699"/>
<path d="M404.60,506.48 L401.83,502.20 L399.07,497.91 L396.31,493.62 L399.20,486.06 L407.28,486.57 L407.28,486.57 L410.03,490.85 L412.79,495.13 L415.55,499.40Z" fill="#ff0000"/>
<path d="M404.60,506.48 L401.83,502.20 L399.07,497.91 L396.31,493.62 L397.41,490.75 L397.41,490.75 L400.49,495.55 L403.58,500.34 L406.68,505.14Z" fill="#ff5454"/>
<path d="M413.47,500.75 L410.38,495.96 L407.29,491.17 L404.21,486.38 L407.28,486.57 L407.28,486.57 L410.03,490.85 L412.79,495.13 L415.55,499.40Z" fill="#ba0000"/>
<path d="M389.52,516.23 L386.78,512.00 L384.05,507.76 L381.32,503.52 L378.60,499.28 L389.46,492.31 L392.18,496.54 L394.90,500.77 L397.63,505.00 L400.36,509.22Z" fill="#ff8c00"/>
<path d="M389.52,516.23 L386.78,512.00 L384.05,507.76 L381.32,503.52 L378.60,499.28 L380.66,497.96 L383.39,502.20 L386.11,506.43 L388.84,510.67 L391.58,514.90Z" fill="#ffb254"/>
<path d="M398.30,510.56 L395.57,506.33 L392.84,502.10 L390.12,497.87 L387.40,493.63 L389.46,492.31 L392.18,496.54 L394.90,500.77 L397.63,505.00 L400.36,509.22Z" fill="#ba6600"/>
<line x1="254.57" y1="111.54" x2="297.14" y2="87.99" stroke="#0000ff" stroke-width="1"/>
<line x1="263.01" y1="126.76" x2="305.51" y2="103.09" stroke="#0000ff" stroke-width="1"/>
<line x1="272.90" y1="144.43" x2="315.32" y2="120.61" stroke="#0000ff" stroke-width="1"/>
<line x1="299.94" y1="192.09" x2="342.14" y2="167.88" stroke="#0000ff" stroke-width="1"/>
<line x1="317.62" y1="222.72" x2="359.68" y2="198.27" stroke="#0000ff" stroke-width="1"/>
<line x1="331.71" y1="246.82" x2="373.65" y2="222.17" stroke="#0000ff" stroke-width="1"/>
<line x1="349.39" y1="276.72" x2="391.20" y2="251.84" stroke="#0000ff" stroke-width="1"/>
<line x1="364.67" y1="302.24" x2="406.35" y2="277.15" stroke="#0000ff" stroke-width="1"/>
<line x1="379.80" y1="327.23" x2="421.35" y2="301.93" stroke="#0000ff" stroke-width="1"/>
<line x1="473.72" y1="476.58" x2="514.52" y2="450.08" stroke="#0000ff" stroke-width="1"/>
<line x1="495.00" y1="509.10" x2="535.62" y2="482.34" stroke="#0000ff" stroke-width="1"/>
<line x1="527.73" y1="558.27" x2="568.10" y2="531.11" stroke="#0000ff" stroke-width="1"/>
<line x1="142.28" y1="132.08" x2="101.20" y2="154.50" stroke="#ff0000" stroke-width="1"/>
<line x1="303.42" y1="409.90" x2="263.57" y2="434.43" stroke="#ff0000" stroke-width="1"/>
<line x1="320.31" y1="437.17" x2="280.58" y2="461.91" stroke="#ff0000" stroke-width="1"/>
<line x1="339.36" y1="467.57" x2="299.78" y2="492.54" stroke="#ff0000" stroke-width="1"/>
<line x1="370.54" y1="516.47" x2="331.20" y2="541.81" stroke="#ff0000" stroke-width="1"/>
<rect x="198.00" y="2.70" width="38.50" height="9" fill="#fff" fill-opacity="0.6"/>
<text transform="scale(0.9,1)" x="220.44" y="10.00" class="rl" fill="#111" stroke="none" textLength="41.44" lengthAdjust="spacing">1515 kbp</text>
<rect x="244.60" y="89.70" width="39.10" height="9" fill="#fff" fill-opacity="0.6"/>
<text transform="scale(0.9,1)" x="272.76" y="97.00" class="rl" fill="#111" stroke="none" textLength="40.87" lengthAdjust="spacing">1510 kbp</text>
<rect x="292.70" y="176.70" width="39.30" height="9" fill="#fff" fill-opacity="0.6"/>
<text transform="scale(0.9,1)" x="326.29" y="184.00" class="rl" fill="#111" stroke="none" textLength="41.27" lengthAdjust="spacing">1505 kbp</text>
<rect x="342.70" y="261.70" width="39.30" height="9" fill="#fff" fill-opacity="0.6"/>
<text transform="scale(0.9,1)" x="381.84" y="269.00" class="rl" fill="#111" stroke="none" textLength="41.27" lengthAdjust="spacing">1500 kbp</text>
<rect x="393.70" y="347.00" width="39.30" height="9" fill="#fff" fill-opacity="0.6"/>
<text transform="scale(0.9,1)" x="438.51" y="354.30" class="rl" fill="#111" stroke="none" textLength="41.27" lengthAdjust="spacing">1495 kbp</text>
<rect x="445.70" y="431.00" width="39.00" height="9" fill="#fff" fill-opacity="0.6"/>
<text transform="scale(0.9,1)" x="496.29" y="438.30" class="rl" fill="#111" stroke="none" textLength="40.67" lengthAdjust="spacing">1490 kbp</text>
<rect x="499.70" y="513.70" width="39.30" height="9" fill="#fff" fill-opacity="0.6"/>
<text transform="scale(0.9,1)" x="556.29" y="521.00" class="rl" fill="#111" stroke="none" textLength="41.27" lengthAdjust="spacing">1485 kbp</text>
<text transform="scale(0.85,1)" x="352.12" y="88.80" class="lb" fill="#0000ff" stroke="#0000ff" textLength="40.47" lengthAdjust="spacing">BL0246</text>
<text transform="scale(0.85,1)" x="361.60" y="103.80" class="lb" fill="#0000ff" stroke="#0000ff" textLength="39.39" lengthAdjust="spacing">BL0245</text>
<text transform="scale(0.85,1)" x="374.14" y="121.80" class="lb" fill="#0000ff" stroke="#0000ff" textLength="38.56" lengthAdjust="spacing">BL0244</text>
<text transform="scale(0.95,1)" x="363.07" y="170.00" class="lb" fill="#0000ff" stroke="#0000ff" textLength="13.64" lengthAdjust="spacing">spl</text>
<text transform="scale(0.85,1)" x="424.85" y="198.60" class="lb" fill="#0000ff" stroke="#0000ff" textLength="38.78" lengthAdjust="spacing">BL0534</text>
<text transform="scale(0.93,1)" x="403.74" y="223.00" class="lb" fill="#0000ff" stroke="#0000ff" textLength="20.86" lengthAdjust="spacing">scrR</text>
<text transform="scale(0.93,1)" x="422.90" y="252.80" class="lb" fill="#0000ff" stroke="#0000ff" textLength="22.04" lengthAdjust="spacing">shiA</text>
<text transform="scale(0.93,1)" x="439.42" y="277.80" class="lb" fill="#0000ff" stroke="#0000ff" textLength="24.39" lengthAdjust="spacing">ilvC2</text>
<text transform="scale(0.93,1)" x="454.97" y="302.50" class="lb" fill="#0000ff" stroke="#0000ff" textLength="23.89" lengthAdjust="spacing">ilvC1</text>
<text transform="scale(0.85,1)" x="607.84" y="451.00" class="lb" fill="#0000ff" stroke="#0000ff" textLength="38.56" lengthAdjust="spacing">BL0524</text>
<text transform="scale(0.85,1)" x="632.12" y="483.20" class="lb" fill="#0000ff" stroke="#0000ff" textLength="40.05" lengthAdjust="spacing">BL0523</text>
<text transform="scale(0.93,1)" x="612.43" y="532.20" class="lb" fill="#0000ff" stroke="#0000ff" textLength="26.45" lengthAdjust="spacing">dnaK</text>
<text transform="scale(0.85,1)" x="77.25" y="157.70" class="lb" fill="#ff0000" stroke="#ff0000" textLength="39.62" lengthAdjust="spacing">BL0542</text>
<text transform="scale(0.95,1)" x="252.08" y="438.60" class="lb" fill="#ff0000" stroke="#ff0000" textLength="22.44" lengthAdjust="spacing">aglA</text>
<text transform="scale(0.85,1)" x="287.62" y="465.60" class="lb" fill="#ff0000" stroke="#ff0000" textLength="40.05" lengthAdjust="spacing">BL0528</text>
<text transform="scale(0.95,1)" x="285.77" y="497.00" class="lb" fill="#ff0000" stroke="#ff0000" textLength="26.65" lengthAdjust="spacing">malQ</text>
<text transform="scale(0.85,1)" x="347.62" y="545.60" class="lb" fill="#ff0000" stroke="#ff0000" textLength="39.53" lengthAdjust="spacing">BL0525</text>
<rect x="110" y="4.4" width="380" height="26.6" fill="#fff" fill-opacity="0.8"/>
<text x="117.12" y="22.60" class="tt" fill="#000" textLength="366.92" lengthAdjust="spacingAndGlyphs">Bifidobacterium longum NCC2705, complete genome</text>
<rect x="5" y="570.5" width="145" height="24.5" fill="#fff" fill-opacity="0.8"/>
<rect x="255" y="570.5" width="342" height="24.5" fill="#fff" fill-opacity="0.8"/>
<text transform="scale(0.95,1)" x="10.25" y="587.10" class="ft" fill="#000" stroke="none" textLength="141.01" lengthAdjust="spacing">Accession: NC_004307</text>
<text transform="scale(0.95,1)" x="275.52" y="587.10" class="ft" fill="#000" stroke="none" textLength="344.84" lengthAdjust="spacing">Topology: circular; Length: 2,256,640 bp; Genes: 1,796</text>
</svg></body></html>
